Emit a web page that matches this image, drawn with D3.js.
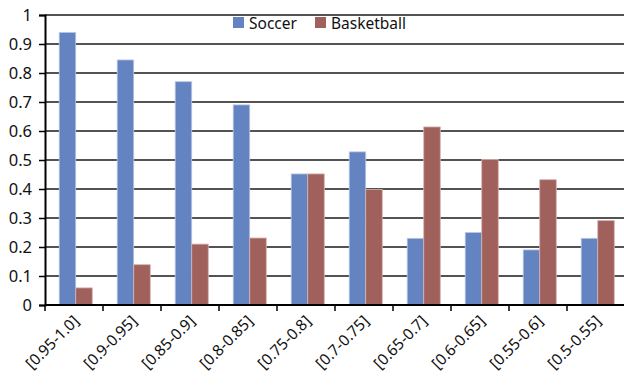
<!DOCTYPE html>
<html>
<head>
<meta charset="utf-8">
<script src="https://cdn.jsdelivr.net/npm/d3@7"></script>
<style>
  body { margin: 0; background: #fff; }
  text { font-family: "Noto Sans", "Open Sans", sans-serif; }
</style>
</head>
<body>
<div id="chart"></div>
<script>
// data
var categories = ["[0.95-1.0]", "[0.9-0.95]", "[0.85-0.9]", "[0.8-0.85]", "[0.75-0.8]",
  "[0.7-0.75]", "[0.65-0.7]", "[0.6-0.65]", "[0.55-0.6]", "[0.5-0.55]"];
var seriesNames = ["Soccer", "Basketball"];
var soccer = [0.94, 0.845, 0.77, 0.69, 0.452, 0.528, 0.23, 0.25, 0.19, 0.23];
var basketball = [0.059, 0.139, 0.21, 0.231, 0.452, 0.398, 0.614, 0.502, 0.432, 0.291];
var yTicks = [0, 0.1, 0.2, 0.3, 0.4, 0.5, 0.6, 0.7, 0.8, 0.9, 1];
var colors = ["#6483c1", "#a0615c"];

var svgWidth = 624;
var svgHeight = 388;
var margin = { top: 15, right: -1, bottom: 83, left: 45 };
var width = svgWidth - margin.left - margin.right;
var height = svgHeight - margin.top - margin.bottom;

var svg = d3.select("#chart")
  .append("svg")
  .attr("width", svgWidth)
  .attr("height", svgHeight);

var chartGroup = svg.append("g")
  .attr("transform", `translate(${margin.left}, ${margin.top})`);

var x0 = d3.scaleBand()
  .domain(categories)
  .range([0, width])
  .padding(0);

var x1 = d3.scaleBand()
  .domain(seriesNames)
  .range([x0.bandwidth() * 0.245, x0.bandwidth() * 0.815])
  .padding(0);

var y = d3.scaleLinear()
  .domain([0, 1])
  .range([height, 0]);

// gridlines
chartGroup.append("g")
  .selectAll("line")
  .data(yTicks.slice(1))
  .enter()
  .append("line")
  .attr("x1", 0)
  .attr("x2", width)
  .attr("y1", d => y(d))
  .attr("y2", d => y(d))
  .attr("stroke", "#1a1a1a")
  .attr("stroke-width", 1.5);

// bars
var rows = categories.map((c, i) => ({ cat: c, values: [soccer[i], basketball[i]] }));

var groups = chartGroup.selectAll(".grp")
  .data(rows)
  .enter()
  .append("g")
  .attr("transform", d => `translate(${x0(d.cat)}, 0)`);

groups.selectAll("rect")
  .data(d => d.values.map((v, j) => ({ name: seriesNames[j], value: v, j: j })))
  .enter()
  .append("rect")
  .attr("x", d => x1(d.name))
  .attr("y", d => y(d.value))
  .attr("width", x1.bandwidth())
  .attr("height", d => height - y(d.value))
  .attr("fill", d => colors[d.j])
  .attr("stroke", d => d.j === 0 ? "#b9c8e6" : "#d6b3b0")
  .attr("stroke-width", 0.8);

// y axis
var leftAxis = d3.axisLeft(y)
  .tickValues(yTicks)
  .tickSize(6)
  .tickPadding(7)
  .tickFormat(d => d === 0 ? "0" : d === 1 ? "1" : d3.format(".1f")(d));

var yAxis = chartGroup.append("g").call(leftAxis);
yAxis.select(".domain").attr("stroke", "#000").attr("stroke-width", 2);
yAxis.selectAll(".tick line").attr("stroke", "#000").attr("stroke-width", 1.5);
yAxis.selectAll("text")
  .attr("font-size", 16.5)
  .attr("fill", "#111")
  .style("font-family", "'Noto Sans', sans-serif");

// x axis: ticks between categories
var xAxisG = chartGroup.append("g")
  .attr("transform", `translate(0, ${height})`);

xAxisG.append("line")
  .attr("x1", 0)
  .attr("x2", width)
  .attr("stroke", "#000")
  .attr("stroke-width", 2);

xAxisG.selectAll(".xt")
  .data(categories)
  .enter()
  .append("line")
  .attr("x1", d => x0(d))
  .attr("x2", d => x0(d))
  .attr("y1", 0)
  .attr("y2", 6)
  .attr("stroke", "#000")
  .attr("stroke-width", 1.5);

xAxisG.selectAll(".xl")
  .data(categories)
  .enter()
  .append("text")
  .attr("transform", d => `translate(${x0(d) + x0.bandwidth() / 2 + 6}, 17) rotate(-45)`)
  .attr("text-anchor", "end")
  .attr("font-size", 15.5)
  .attr("fill", "#111")
  .text(d => d);

// legend
var legend = svg.append("g")
  .attr("transform", "translate(233, 17)");

var legendX = [0, 82];
seriesNames.forEach(function(name, i) {
  var g = legend.append("g").attr("transform", `translate(${legendX[i]}, 0)`);
  g.append("rect")
    .attr("width", 11)
    .attr("height", 11)
    .attr("fill", colors[i]);
  g.append("text")
    .attr("x", 16)
    .attr("y", 12)
    .attr("font-size", 15.5)
    .attr("fill", "#111")
    .text(name);
});
</script>
</body>
</html>
